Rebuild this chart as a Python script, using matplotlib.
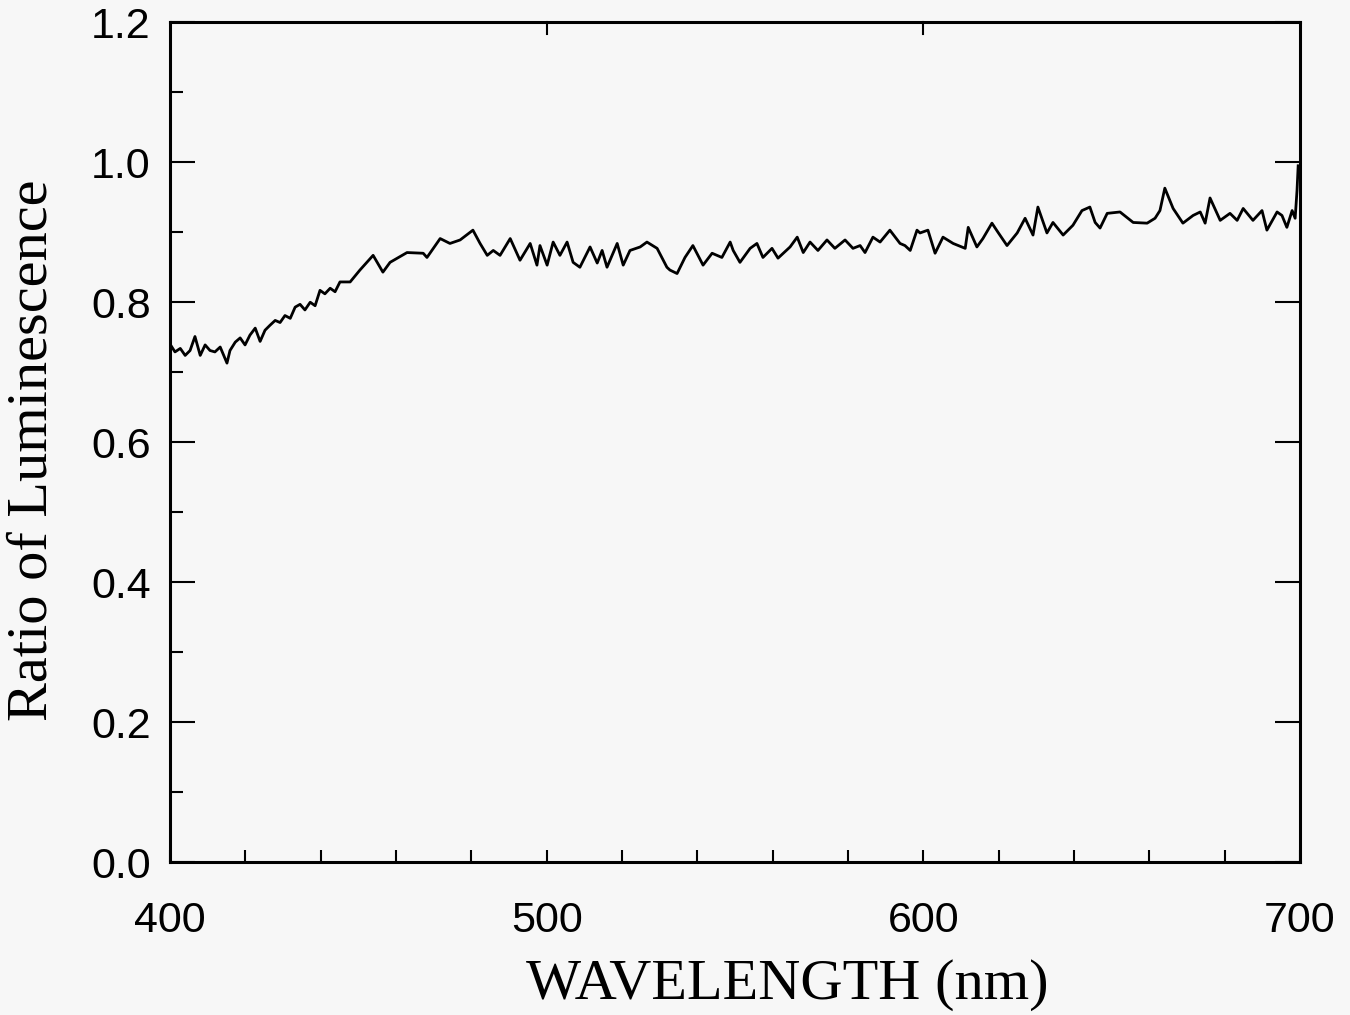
import numpy as np
from matplotlib import pyplot as plt
from matplotlib.ticker import MultipleLocator, FixedLocator

# wavelength (nm) and luminescence ratio
wavelength = [
    400.0, 401.3, 402.7, 404.0, 405.3, 406.6, 408.0, 409.3, 410.6, 411.9,
    413.3, 415.1, 415.9, 417.3, 418.6, 419.9, 421.2, 422.6, 423.9, 425.2,
    426.5, 427.9, 429.2, 430.5, 431.9, 433.2, 434.5, 435.8, 437.2, 438.5,
    439.8, 441.1, 442.5, 443.8, 445.1, 447.8, 450.4, 453.9, 456.5, 458.4,
    462.9, 467.2, 468.2, 471.7, 474.3, 477.0, 480.4, 482.3, 484.2, 485.8,
    487.6, 490.3, 492.9, 495.6, 497.4, 498.2, 500.1, 501.7, 503.5, 505.4,
    507.0, 508.8, 511.5, 513.4, 514.7, 516.0, 518.7, 520.3, 522.1, 524.8,
    526.6, 529.3, 531.9, 532.7, 534.6, 536.7, 538.8, 541.5, 543.9, 546.5,
    548.7, 549.5, 551.3, 554.0, 555.8, 557.4, 559.8, 561.4, 564.6, 566.5,
    568.1, 569.9, 572.0, 574.4, 576.5, 579.2, 581.3, 583.2, 584.5, 586.6,
    588.5, 591.1, 593.8, 595.1, 596.5, 598.3, 599.1, 601.2, 603.1, 605.2,
    607.9, 611.1, 611.9, 614.2, 615.8, 618.2, 619.8, 622.2, 624.9, 627.0,
    629.1, 630.4, 632.8, 634.4, 637.1, 639.7, 642.1, 644.2, 645.6, 646.9,
    648.8, 652.2, 655.7, 659.4, 661.5, 662.8, 664.1, 666.3, 668.9, 671.6,
    673.5, 674.8, 676.1, 678.8, 681.4, 683.3, 684.9, 687.5, 689.9, 691.2,
    693.9, 695.2, 696.5, 697.9, 698.7, 699.2, 699.5,
]
ratio = [
    0.740, 0.729, 0.734, 0.724, 0.731, 0.751, 0.724, 0.739, 0.731, 0.729,
    0.736, 0.713, 0.731, 0.743, 0.749, 0.739, 0.753, 0.763, 0.744, 0.760,
    0.767, 0.774, 0.771, 0.781, 0.777, 0.793, 0.797, 0.789, 0.800, 0.795,
    0.817, 0.812, 0.820, 0.815, 0.829, 0.829, 0.846, 0.867, 0.843, 0.857,
    0.871, 0.870, 0.864, 0.891, 0.884, 0.889, 0.903, 0.884, 0.867, 0.874,
    0.867, 0.891, 0.860, 0.884, 0.853, 0.881, 0.853, 0.886, 0.867, 0.886,
    0.857, 0.850, 0.879, 0.856, 0.874, 0.850, 0.884, 0.853, 0.874, 0.879,
    0.886, 0.877, 0.850, 0.846, 0.841, 0.864, 0.881, 0.853, 0.870, 0.864,
    0.886, 0.874, 0.857, 0.877, 0.884, 0.864, 0.877, 0.863, 0.879, 0.893,
    0.871, 0.886, 0.874, 0.889, 0.877, 0.889, 0.877, 0.881, 0.871, 0.893,
    0.886, 0.903, 0.884, 0.881, 0.874, 0.903, 0.899, 0.903, 0.870, 0.893,
    0.884, 0.877, 0.907, 0.879, 0.891, 0.913, 0.900, 0.881, 0.899, 0.920,
    0.896, 0.936, 0.899, 0.914, 0.896, 0.910, 0.931, 0.936, 0.914, 0.906,
    0.927, 0.929, 0.914, 0.913, 0.920, 0.931, 0.963, 0.934, 0.913, 0.924,
    0.929, 0.913, 0.949, 0.917, 0.927, 0.917, 0.934, 0.917, 0.931, 0.903,
    0.929, 0.924, 0.907, 0.931, 0.920, 0.960, 0.995,
]

bg = '#f7f7f7'
fig = plt.figure(figsize=(13.5, 10.15), dpi=100, facecolor=bg)
ax = fig.add_axes([0.126, 0.1507, 0.837, 0.8273], facecolor=bg)

ax.plot(wavelength, ratio, color='black', lw=2.0)

ax.set_xlim(400, 700)
ax.set_ylim(0, 1.2)
for s in ax.spines.values():
    s.set_linewidth(2.2)

ax.xaxis.set_major_locator(FixedLocator([400, 500, 600, 700]))
ax.xaxis.set_minor_locator(MultipleLocator(20))
ax.yaxis.set_major_locator(MultipleLocator(0.2))
ax.yaxis.set_minor_locator(MultipleLocator(0.1))

tick_font = dict(family='Liberation Sans', size=31)
ax.tick_params(axis='x', which='both', direction='in', length=9, width=1.5,
               top=False, pad=28)
ax.tick_params(axis='y', which='major', direction='in', length=18, width=1.5,
               right=True, pad=14)
ax.tick_params(axis='y', which='minor', direction='in', length=9, width=1.5)
ax.set_yticks(np.arange(0, 1.21, 0.2))
ax.set_yticklabels(['%.1f' % v for v in np.arange(0, 1.21, 0.2)], **tick_font)
ax.set_xticks([400, 500, 600, 700])
ax.set_xticklabels(['400', '500', '600', '700'], **tick_font)

# short ticks on the top spine at 500 and 600
for xv in [500, 600]:
    ax.plot([xv, xv], [1.2, 1.2 - 0.016], color='black', lw=1.5, clip_on=False)

ax.set_xlabel('WAVELENGTH (nm)', family='Liberation Serif', size=42, va='center')
ax.xaxis.set_label_coords(0.546, -0.146)
ax.set_ylabel('Ratio of Luminescence', family='Liberation Serif', size=42, va='center')
ax.yaxis.set_label_coords(-0.122, 0.49)

plt.savefig('out.png', dpi=100, facecolor=bg)
